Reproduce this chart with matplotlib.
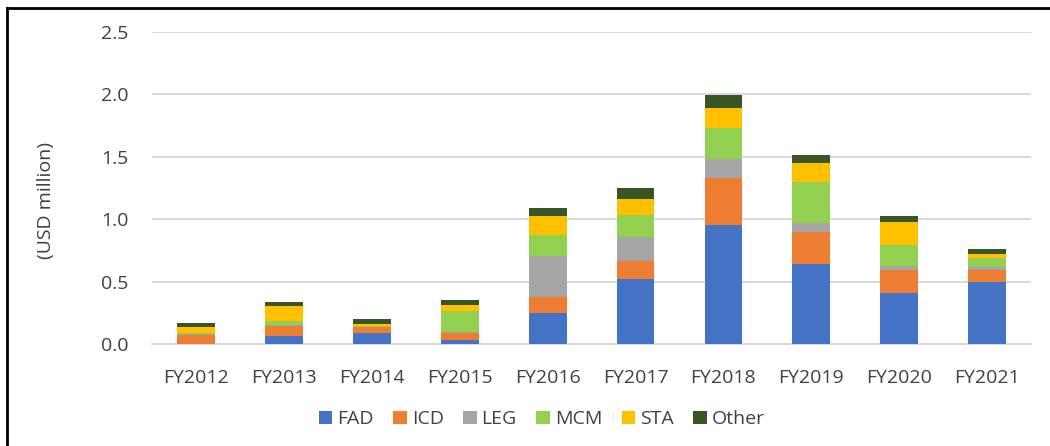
import matplotlib.pyplot as plt
import numpy as np
from matplotlib.lines import Line2D
from matplotlib.patches import Patch

plt.rcParams["font.family"] = ["Open Sans", "DejaVu Sans"]

years = ["FY2012", "FY2013", "FY2014", "FY2015", "FY2016",
         "FY2017", "FY2018", "FY2019", "FY2020", "FY2021"]

fad = [0.0, 0.064, 0.092, 0.034, 0.248, 0.52, 0.951, 0.644, 0.41, 0.496]
icd = [0.072, 0.077, 0.041, 0.051, 0.125, 0.142, 0.378, 0.256, 0.185, 0.1]
leg = [0.005, 0.011, 0.006, 0.014, 0.329, 0.194, 0.152, 0.072, 0.03, 0.019]
mcm = [0.011, 0.032, 0.009, 0.162, 0.17, 0.178, 0.248, 0.328, 0.166, 0.072]
sta = [0.05, 0.119, 0.011, 0.053, 0.154, 0.132, 0.162, 0.152, 0.188, 0.032]
other = [0.033, 0.034, 0.041, 0.039, 0.062, 0.084, 0.101, 0.059, 0.051, 0.04]

series = [("FAD", fad, "#4472C4"), ("ICD", icd, "#ED7D31"),
          ("LEG", leg, "#A5A5A5"), ("MCM", mcm, "#92D050"),
          ("STA", sta, "#FFC000"), ("Other", other, "#375623")]

text_color = "#404040"
grid_color = "#d9d9d9"

fig = plt.figure(figsize=(10.5, 4.46), dpi=100)
ax = fig.add_axes([0.1448, 0.2287, 0.8372, 0.6993])

x = np.arange(len(years))
bottom = np.zeros(len(years))
for name, vals, color in series:
    ax.bar(x, vals, width=0.43, bottom=bottom, color=color, label=name,
           linewidth=0, zorder=3)
    bottom += np.array(vals)

ax.set_xlim(-0.5, len(years) - 0.5)
ax.set_ylim(0, 2.5)
ax.set_yticks(np.arange(0, 2.51, 0.5))
ax.set_yticklabels([f"{v:.1f}" for v in np.arange(0, 2.51, 0.5)])
ax.set_xticks(x)
ax.set_xticklabels(years)
ax.tick_params(axis="both", length=0, labelsize=14, colors=text_color)
ax.tick_params(axis="y", pad=17)
ax.tick_params(axis="x", pad=18)
ax.grid(axis="y", color=grid_color, linewidth=1.5, zorder=0)
for side in ["top", "right", "left"]:
    ax.spines[side].set_visible(False)
ax.spines["bottom"].set_color(grid_color)
ax.spines["bottom"].set_linewidth(1.5)

fig.text(0.044, 0.55, "(USD million)", rotation=90, ha="center", va="center",
         fontsize=14, color=text_color)

handles = [Patch(facecolor=c, label=n) for n, _, c in series]
fig.legend(handles=handles, loc="center", bbox_to_anchor=(0.516, 0.06),
           ncol=6, frameon=False, fontsize=14, handlelength=0.7,
           handleheight=0.7, handletextpad=0.25, columnspacing=1.0,
           labelcolor=text_color)

# outer frame (cut off at right and bottom)
fig.add_artist(Line2D([7 / 1050, 1.01], [1 - 8 / 446, 1 - 8 / 446],
                      color="black", linewidth=2, transform=fig.transFigure))
fig.add_artist(Line2D([7 / 1050, 7 / 1050], [-0.01, 1 - 8 / 446],
                      color="black", linewidth=2, transform=fig.transFigure))

fig.savefig("out.png", dpi=100)
